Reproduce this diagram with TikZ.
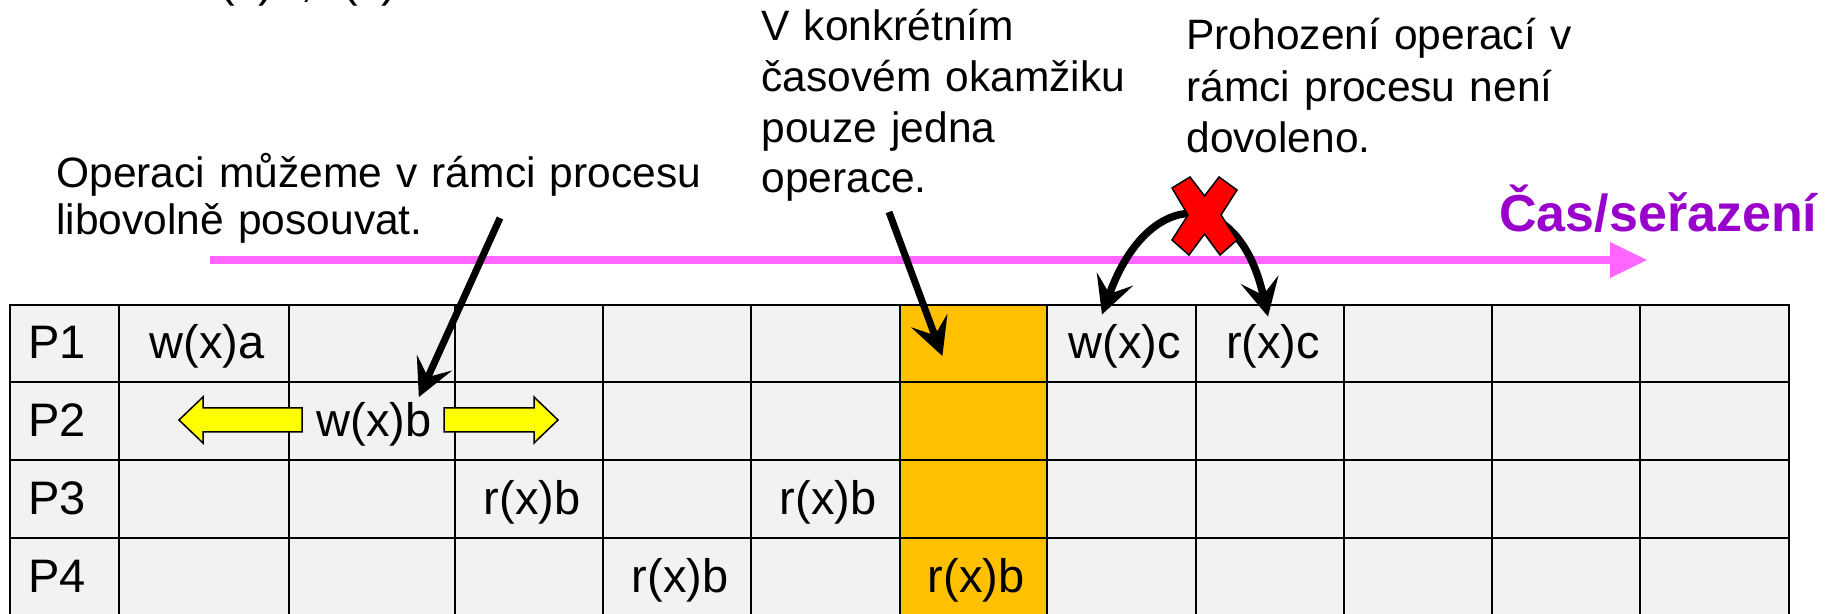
\documentclass[tikz,border=0pt]{standalone}
\usepackage{fontspec}
\setmainfont{Liberation Sans}
\usetikzlibrary{arrows.meta,calc}

\definecolor{cellgray}{HTML}{F2F2F2}
\definecolor{slotorange}{HTML}{FFC000}
\definecolor{timepink}{HTML}{FF66FF}
\definecolor{titlepurple}{HTML}{9900CC}
\definecolor{moveyellow}{HTML}{FFFF00}
\definecolor{forbidred}{HTML}{FF0000}

\tikzset{
  bigtip/.tip={Stealth[length=19pt,width=19.5pt,inset=8pt,line width=0pt]},
  gridline/.style={line width=1pt, black, line cap=rect},
  opcell/.style={anchor=base, inner sep=0pt, font=\fontsize{23.5pt}{28pt}\selectfont},
  proclabel/.style={anchor=base west, inner sep=0pt, font=\fontsize{23.5pt}{28pt}\selectfont},
  notetext/.style={anchor=base west, inner sep=0pt, align=left},
  pointer/.style={line width=3.5pt, -bigtip},
  swaparc/.style={line width=3.75pt, bigtip-bigtip},
  timeline/.style={line width=4pt, timepink, -{Triangle[length=18.5pt,width=18pt,line width=0pt]}},
  movearrow/.style={fill=moveyellow, draw=black, line width=0.75pt, line join=miter},
  forbidmark/.style={fill=forbidred, draw=black, line width=0.75pt, line join=miter},
}

\begin{document}
\begin{tikzpicture}[x=0.5pt, y=-0.5pt]
\useasboundingbox (0,0) rectangle (1833,614);

% line of text above the visible area
\node[proclabel] (topline) at (185,-3) {w(x)a, r(x)b};

% table background and the highlighted time slot
\fill[cellgray] (9.5,305) rectangle (1789,616);
\node[fill=slotorange, inner sep=0pt, minimum width=73.5pt, minimum height=155.5pt,
      anchor=north west] (slot) at (900,305) {};

% grid
\foreach \cx in {9.5,118.5,289,455,603,751,900,1047,1196,1344,1492,1640,1789}
  \draw[gridline] (\cx,305) -- (\cx,616);
\foreach \ry in {305,382,460,538,616}
  \draw[gridline] (9.5,\ry) -- (1789,\ry);

% process names
\foreach \r/\ry in {1/359,2/436.5,3/514.5,4/592.5}
  \node[proclabel] (p\r) at (28,\ry) {P\r};

% operations
\node[opcell] (wxa)  at (207,359)   {w(x)a};
\node[opcell] (wxb)  at (374,436.5) {w(x)b};
\node[opcell] (rxbA) at (532,514.5) {r(x)b};
\node[opcell] (rxbB) at (828,514.5) {r(x)b};
\node[opcell] (rxbC) at (680,592.5) {r(x)b};
\node[opcell] (rxbD) at (976,592.5) {r(x)b};
\node[opcell] (wxc)  at (1125,359)  {w(x)c};
\node[opcell] (rxc)  at (1273,359)  {r(x)c};

% w(x)b may move within its process
\draw[movearrow] (179,420) -- (203,397) -- (203,408) -- (302,408) -- (302,432)
  -- (203,432) -- (203,443) -- cycle;
\draw[movearrow] (558,420) -- (534,443) -- (534,432) -- (444,432) -- (444,408)
  -- (534,408) -- (534,397) -- cycle;

% explanatory notes
\node[notetext, text width=340pt, font=\fontsize{21.25pt}{23.5pt}\selectfont]
  (noteA) at (56,188) {Operaci můžeme v rámci procesu\\libovolně posouvat.};
\node[notetext, text width=200pt, font=\fontsize{21.25pt}{25.3pt}\selectfont]
  (noteB) at (761,41) {V konkrétním\\časovém okamžiku\\pouze jedna\\operace.};
\node[notetext, text width=210pt, font=\fontsize{21.25pt}{25.7pt}\selectfont]
  (noteC) at (1186,50) {Prohození operací v\\rámci procesu není\\dovoleno.};

% time axis
\coordinate (tstart) at (210,260);
\coordinate (tend) at (1647,260);
\draw[timeline] (tstart) -- (tend);
\node[anchor=base west, inner sep=0pt, text=titlepurple,
      font=\fontsize{26pt}{31pt}\selectfont\bfseries] (title) at (1499,232) {Čas/seřazení};

% pointers from the notes
\coordinate (fromA) at (500,218);
\draw[pointer] (fromA) -- ($(wxb.north east)+(-13,-5)$);
\coordinate (fromB) at (889,212);
\draw[pointer] (fromB) -- ($(slot.north)+(-31.5,51)$);

% forbidden swap of w(x)c and r(x)c
\draw[swaparc] ($(wxc.north)+(-23,-10)$) .. controls +(46.7,-128.3) and +(-29.7,-130.3)
  .. ($(rxc.north)+(-5,-8)$);
\draw[forbidmark] (1172,188) -- (1190,177) -- (1204.5,196) -- (1219,177) -- (1237,190)
  -- (1221,215) -- (1237,240) -- (1220,255) -- (1204.5,234) -- (1189,255)
  -- (1172,240) -- (1188,215) -- cycle;
\end{tikzpicture}
\end{document}
